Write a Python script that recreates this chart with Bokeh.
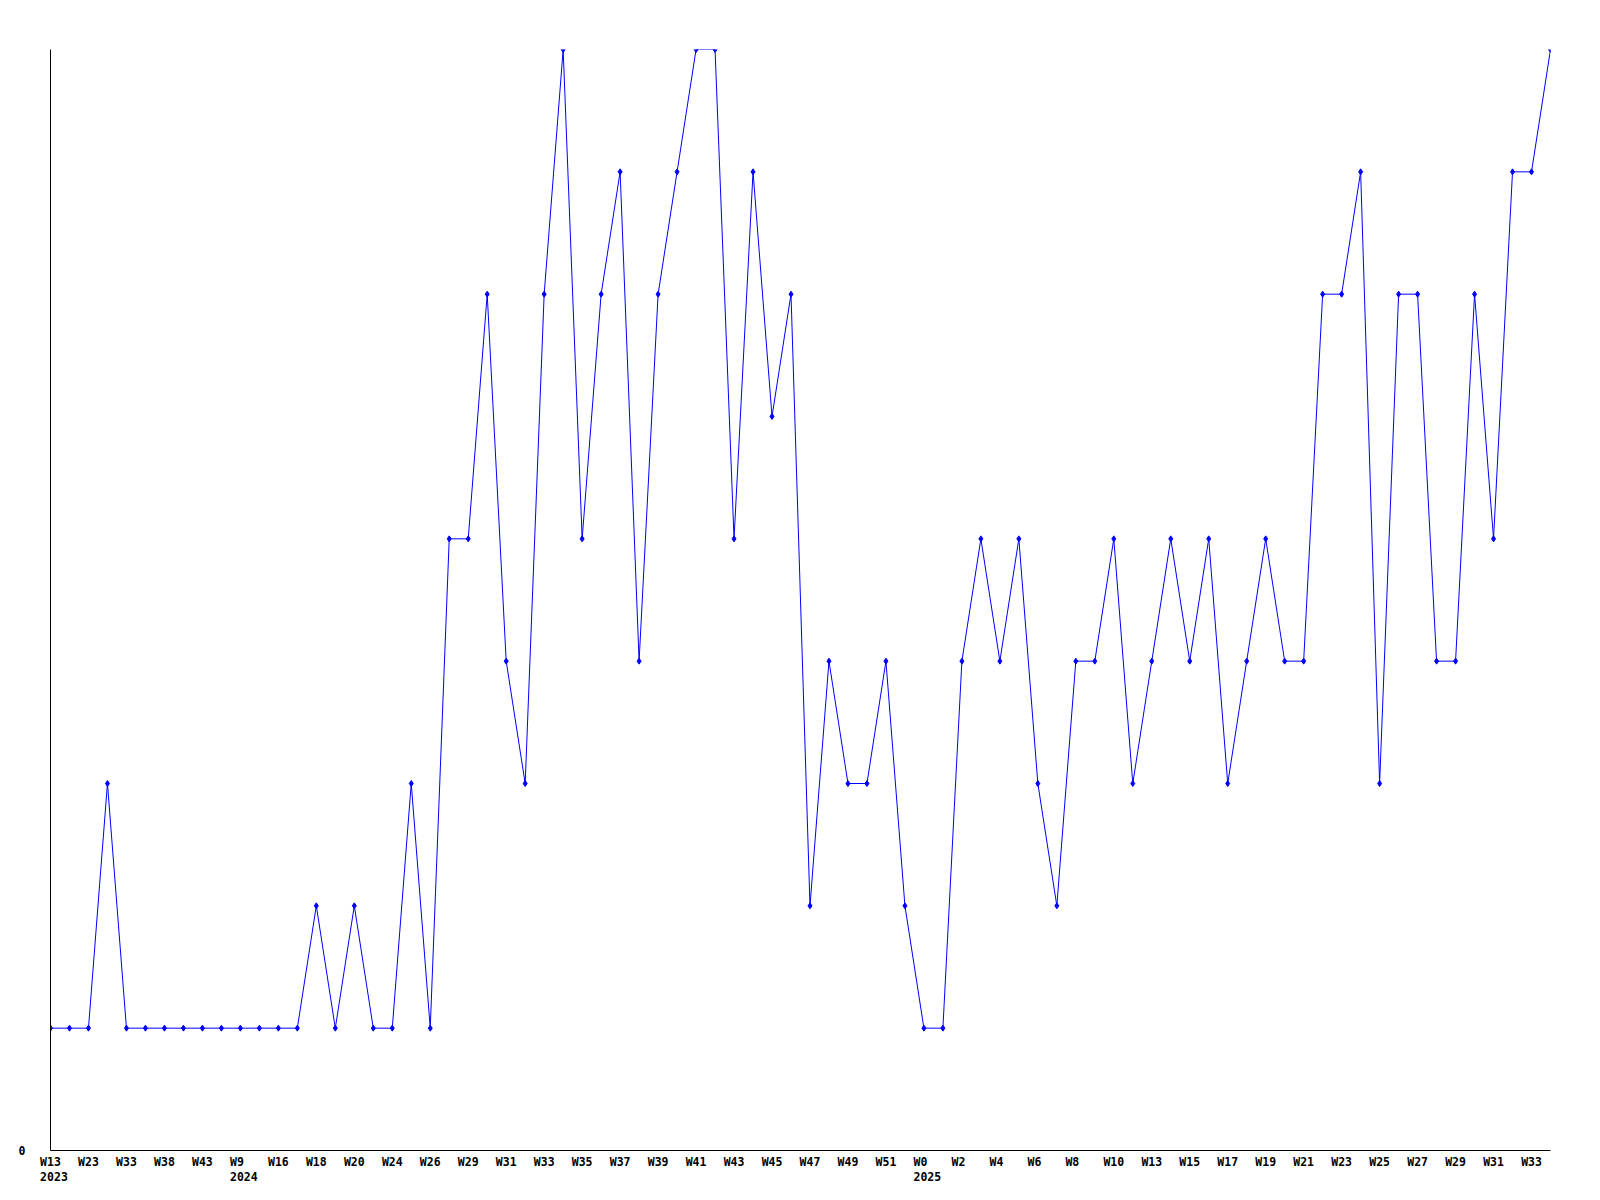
from bokeh.plotting import figure
from bokeh.models import Range1d, FixedTicker, LinearAxis
from bokeh.embed import file_html
from bokeh.resources import INLINE

values = [1, 1, 1, 3, 1, 1, 1, 1, 1, 1,
          1, 1, 1, 1, 2, 1, 2, 1, 1, 3,
          1, 5, 5, 7, 4, 3, 7, 9, 5, 7,
          8, 4, 7, 8, 9, 9, 5, 8, 6, 7,
          2, 4, 3, 3, 4, 2, 1, 1, 4, 5,
          4, 5, 3, 2, 4, 4, 5, 3, 4, 5,
          4, 5, 3, 4, 5, 4, 4, 7, 7, 8,
          3, 7, 7, 4, 4, 7, 5, 8, 8, 9]

tick_labels = ["W13", "W23", "W33", "W38", "W43", "W9", "W16", "W18", "W20", "W24",
               "W26", "W29", "W31", "W33", "W35", "W37", "W39", "W41", "W43", "W45",
               "W47", "W49", "W51", "W0", "W2", "W4", "W6", "W8", "W10", "W13",
               "W15", "W17", "W19", "W21", "W23", "W25", "W27", "W29", "W31", "W33"]

years = ["2023", "2024", "2025"]
year_tick_index = [0, 5, 23]  # index into tick_labels

xs = list(range(len(values)))
tick_pos = [2 * i for i in range(len(tick_labels))]
year_pos = [tick_pos[i] for i in year_tick_index]

FONT = "DejaVu Sans Mono"
FS = "11.5px"

p = figure(width=1588, height=1192, output_backend="svg", toolbar_location=None,
           x_range=Range1d(0, len(values) - 1), y_range=Range1d(0, max(values)),
           min_border_left=50, min_border_top=49, min_border_right=38, min_border_bottom=42)
p.outline_line_color = None
p.xgrid.visible = False
p.ygrid.visible = False

p.line(xs, values, line_color="#0000ff", line_width=1)
p.scatter(xs, values, marker="diamond", size=6, color="#0000ff")


def style_axis(ax, standoff):
    ax.major_tick_line_color = None
    ax.minor_tick_line_color = None
    ax.major_label_standoff = standoff
    ax.major_label_text_font = FONT
    ax.major_label_text_font_size = FS
    ax.major_label_text_font_style = "bold"
    ax.major_label_text_color = "black"


p.xaxis.ticker = FixedTicker(ticks=tick_pos)
p.xaxis.major_label_overrides = {t: lab.ljust(3) for t, lab in zip(tick_pos, tick_labels)}
style_axis(p.xaxis[0], -2)
p.xaxis.axis_line_color = "black"

year_axis = LinearAxis(ticker=FixedTicker(ticks=year_pos),
                       major_label_overrides={t: "\u00a0" + y for t, y in zip(year_pos, years)})
style_axis(year_axis, -8)
year_axis.axis_line_color = None
p.add_layout(year_axis, "below")

p.yaxis.ticker = FixedTicker(ticks=[0])
style_axis(p.yaxis[0], 19)
p.yaxis.axis_line_color = "black"

open("out.html", "w").write(file_html(p, INLINE))
